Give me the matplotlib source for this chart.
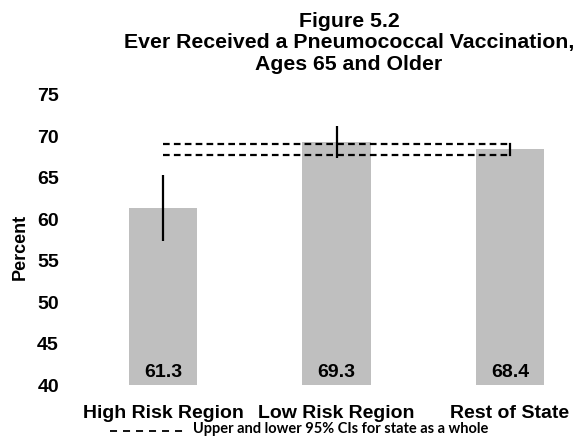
import matplotlib
matplotlib.use("Agg")
import matplotlib.pyplot as plt
from matplotlib.lines import Line2D

categories = ["High Risk Region", "Low Risk Region", "Rest of State"]
values = [61.3, 69.3, 68.4]
ci_low = [57.4, 67.4, None]
ci_high = [65.3, 71.2, None]
state_ci_low = 67.7
state_ci_high = 69.1
yticks = [40, 45, 50, 55, 60, 65, 70, 75]

FONT = "Liberation Sans"
plt.rcParams["font.family"] = FONT

fig = plt.figure(figsize=(5.78, 4.44), dpi=100)
W, H = 578, 444
left_px, right_px = 70, 565
bot_px, top_px = 385.3, 94.5
ax = fig.add_axes([left_px / W, 1 - bot_px / H, (right_px - left_px) / W, (bot_px - top_px) / H])

x = list(range(len(categories)))
ax.bar(x, [v - 40 for v in values], bottom=40, width=0.395, color="#BFBFBF", zorder=1)

for i in x:
    if ci_low[i] is not None:
        ax.plot([i, i], [ci_low[i], ci_high[i]], color="black", lw=1.6, solid_capstyle="butt", zorder=3)

# state CI lines
for yv in (state_ci_high, state_ci_low):
    ax.plot([x[0], x[-1]], [yv, yv], color="black", lw=1.6, dashes=(3.0, 1.9), zorder=2)
ax.plot([x[-1], x[-1]], [state_ci_low, state_ci_high], color="black", lw=1.6, zorder=2)

for i, v in zip(x, values):
    ax.text(i, 41.6, f"{v:.1f}", ha="center", va="center", fontsize=14, fontweight="bold", color="black", zorder=4)

ax.set_ylim(40, 75)
ax.set_xlim(-(163 - left_px) / 173.5, 2 + (right_px - 510) / 173.5)
ax.set_yticks(yticks)
ax.set_yticklabels([str(t) for t in yticks], fontsize=14, fontweight="bold")
ax.set_xticks(x)
ax.set_xticklabels(categories, fontsize=14, fontweight="bold")
ax.tick_params(axis="y", length=0, pad=8)
ax.tick_params(axis="x", length=0, pad=14)
for s in ax.spines.values():
    s.set_visible(False)

fig.text(20 / W, 1 - 246.7 / H, "Percent", rotation=90, ha="center", va="center", fontsize=13, fontweight="bold")

fig.text(349 / W, 1 - 12 / H, "Figure 5.2\nEver Received a Pneumococcal Vaccination,\nAges 65 and Older",
         ha="center", va="top", fontsize=15.3, fontweight="bold", linespacing=1.15)

# legend key for state CI lines
fig.add_artist(Line2D([110 / W, 188 / W], [1 - 431 / H, 1 - 431 / H], transform=fig.transFigure,
                      color="black", lw=1.3, dashes=(3.9, 3.3)))
fig.text(193 / W, 1 - 429 / H, "Upper and lower 95% CIs for state as a whole",
         ha="left", va="center", fontsize=10.5, fontweight="bold", family="Lato")

fig.savefig("out.png", dpi=100)
